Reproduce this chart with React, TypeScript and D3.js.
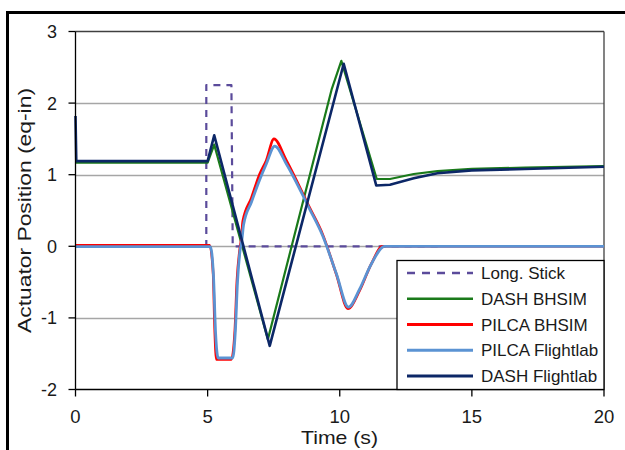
import React from 'react';
import * as d3 from 'd3';

// Long. Stick input
const stickT = [0, 4.95, 4.95, 5.9, 5.95, 13.8];
const stickV = [0, 0, 2.25, 2.25, 0, 0];

// DASH BHSIM
const dashBhT = [0, 5.0, 5.25, 7.28, 9.7, 10.06, 11.4, 11.9, 12.8, 13.7, 15, 17, 20];
const dashBhV = [1.17, 1.17, 1.42, -1.3, 2.2, 2.59, 0.94, 0.94, 1.01, 1.05, 1.08, 1.1, 1.12];

// PILCA BHSIM
const pilcaBhT = [0, 5.08, 5.21, 5.27, 5.33, 5.9, 6.03, 6.11, 6.21, 6.28, 6.33, 6.66, 6.97, 7.22, 7.51, 7.98, 8.86, 9.35, 9.87, 10.31, 10.75, 11.19, 11.62, 20];
const pilcaBhV = [0.015, 0.015, -0.39, -1.18, -1.58, -1.58, -1.18, -0.48, -0.06, 0.12, 0.35, 0.68, 1.01, 1.2, 1.5, 1.2, 0.54, 0.17, -0.39, -0.87, -0.62, -0.25, 0, 0];

// PILCA Flightlab
const pilcaFlT = [0, 5.1, 5.22, 5.3, 5.4, 5.95, 6.05, 6.13, 6.22, 6.3, 6.36, 6.66, 6.97, 7.22, 7.54, 7.98, 8.86, 9.35, 9.87, 10.33, 10.75, 11.19, 11.7, 20];
const pilcaFlV = [-0.005, -0.005, -0.4, -1.2, -1.56, -1.56, -1.18, -0.5, -0.08, 0.1, 0.3, 0.62, 0.93, 1.15, 1.4, 1.15, 0.52, 0.15, -0.38, -0.85, -0.6, -0.25, 0, 0];

// DASH Flightlab
const dashFlT = [0, 0.03, 5.0, 5.25, 7.35, 10.15, 11.38, 11.9, 12.8, 13.7, 15, 17, 20];
const dashFlV = [1.82, 1.19, 1.19, 1.55, -1.39, 2.55, 0.85, 0.86, 0.95, 1.02, 1.06, 1.08, 1.11];

const xTicks = [0, 5, 10, 15, 20];
const yTicks = [-2, -1, 0, 1, 2, 3];
const gridValues = [-1, 0, 1, 2];

const series = [
  { name: 'Long. Stick', t: stickT, v: stickV, color: '#5b4b9b', width: 2.2, dash: '7,6', smooth: false },
  { name: 'DASH BHSIM', t: dashBhT, v: dashBhV, color: '#1a7a1a', width: 2.2, dash: null, smooth: false },
  { name: 'PILCA BHSIM', t: pilcaBhT, v: pilcaBhV, color: '#ff0000', width: 2.6, dash: null, smooth: true },
  { name: 'PILCA Flightlab', t: pilcaFlT, v: pilcaFlV, color: '#5b93d3', width: 2.8, dash: null, smooth: true },
  { name: 'DASH Flightlab', t: dashFlT, v: dashFlV, color: '#0c2767', width: 2.6, dash: null, smooth: false },
];

const font = '"Liberation Sans", Arial, sans-serif';

export default function App() {
  const left = 75.5, right = 604, top = 31.5, bottom = 389.5;
  const x = d3.scaleLinear().domain([0, 20]).range([left, right]);
  const y = d3.scaleLinear().domain([-2, 3]).range([bottom, top]);

  const straight = d3.line<[number, number]>()
    .x(d => x(d[0]))
    .y(d => y(d[1]));
  const smooth = d3.line<[number, number]>()
    .x(d => x(d[0]))
    .y(d => y(d[1]))
    .curve(d3.curveMonotoneX);

  const legX = 397, legY = 260.5;
  const rowY = (i: number) => 273 + i * 25.75;

  return (
    <div style={{ position: 'absolute', left: 0, top: 0 }}>
      <svg width={625} height={450} style={{ display: 'block', background: '#fff' }}>
        {/* outer frame */}
        <line x1={7.5} x2={7.5} y1={11} y2={450} stroke="#000" strokeWidth={3} />
        <line x1={6} x2={625} y1={12.5} y2={12.5} stroke="#000" strokeWidth={3} />

        {/* gridlines */}
        {gridValues.map(g => (
          <line key={g} x1={left} x2={right} y1={Math.round(y(g)) + 0.5} y2={Math.round(y(g)) + 0.5} stroke="#a6a6a6" strokeWidth={1.3} />
        ))}

        {/* plot frame */}
        <line x1={left} x2={right} y1={top} y2={top} stroke="#404040" strokeWidth={1.3} />
        <line x1={right} x2={right} y1={top} y2={bottom} stroke="#404040" strokeWidth={1.3} />

        {/* series */}
        {series.map(s => (
          <path
            key={s.name}
            d={(s.smooth ? smooth : straight)(s.t.map((t, i) => [t, s.v[i]] as [number, number])) || ''}
            fill="none"
            stroke={s.color}
            strokeWidth={s.width}
            strokeDasharray={s.dash || undefined}
            strokeLinejoin="round"
          />
        ))}

        {/* axes */}
        <line x1={left} x2={left} y1={top} y2={bottom} stroke="#000" strokeWidth={1.3} />
        <line x1={left} x2={right} y1={bottom} y2={bottom} stroke="#000" strokeWidth={1.3} />
        {yTicks.map(t => (
          <g key={'y' + t}>
            <line x1={left - 7} x2={left} y1={y(t)} y2={y(t)} stroke="#000" strokeWidth={1.3} />
            <text x={57} y={y(t)} dy="0.36em" textAnchor="end" fontFamily={font} fontSize={18} fill="#1a1a1a">{t}</text>
          </g>
        ))}
        {xTicks.map(t => (
          <g key={'x' + t}>
            <line x1={x(t)} x2={x(t)} y1={bottom} y2={bottom + 7} stroke="#000" strokeWidth={1.3} />
            <text x={x(t)} y={423} textAnchor="middle" fontFamily={font} fontSize={18.5} fill="#1a1a1a">{t}</text>
          </g>
        ))}

        {/* axis titles */}
        <text x={339.5} y={443.5} textAnchor="middle" fontFamily={font} fontSize={19} fill="#1a1a1a"
          textLength={77} lengthAdjust="spacingAndGlyphs">Time  (s)</text>
        <text transform="translate(31,210.5) rotate(-90)" textAnchor="middle" fontFamily={font} fontSize={19} fill="#1a1a1a"
          textLength={245} lengthAdjust="spacingAndGlyphs">Actuator Position (eq-in)</text>

        {/* legend */}
        <rect x={legX} y={legY} width={right - legX} height={bottom - legY} fill="#fff" stroke="#000" strokeWidth={1.3} />
        {series.map((s, i) => (
          <g key={'leg' + s.name}>
            <line x1={407} x2={473} y1={rowY(i)} y2={rowY(i)} stroke={s.color} strokeWidth={s.width + 0.4}
              strokeDasharray={s.dash ? '8,7' : undefined} />
            <text x={481} y={rowY(i)} dy="0.36em" fontFamily={font} fontSize={17} fill="#1a1a1a">{s.name}</text>
          </g>
        ))}
      </svg>
    </div>
  );
}
